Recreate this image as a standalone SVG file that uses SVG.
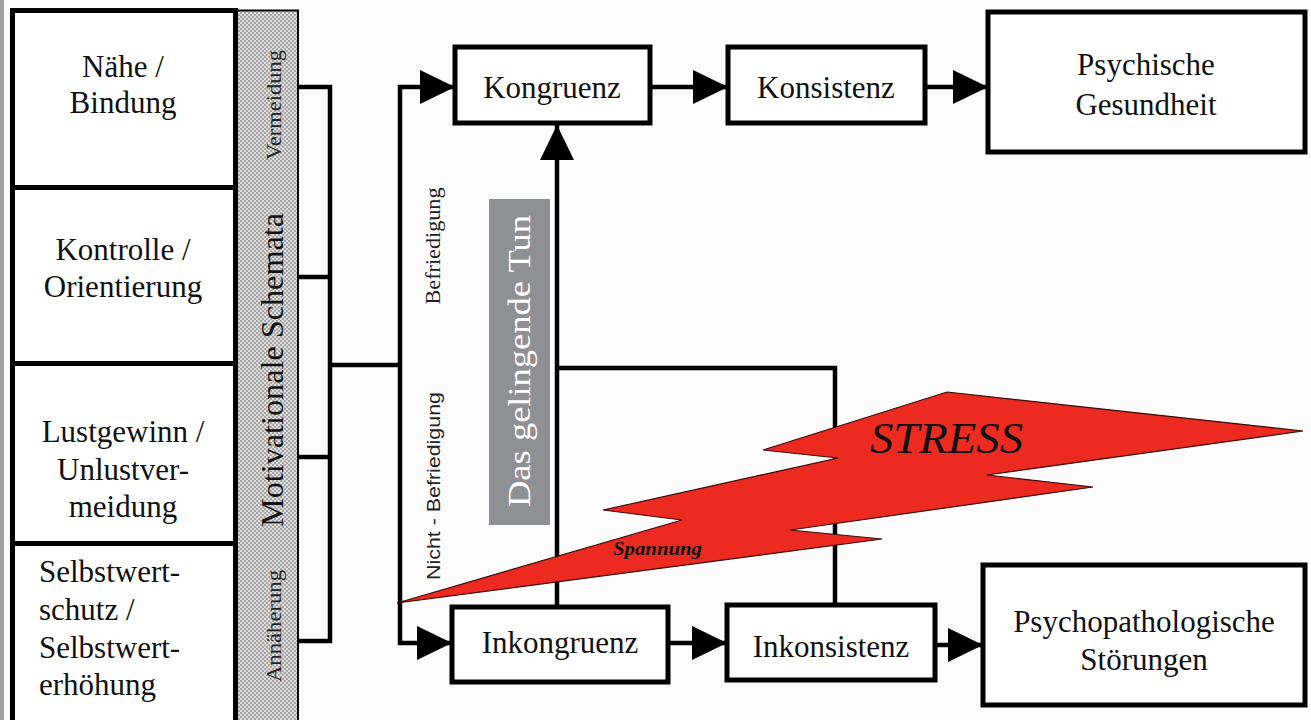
<svg xmlns="http://www.w3.org/2000/svg" width="1311" height="720" viewBox="0 0 1311 720">
<defs>
<style>
.box{fill:#fff;stroke:#000;stroke-width:5}
.t{font-family:"Liberation Serif","Times New Roman",serif;font-size:31px;fill:#111;text-anchor:middle}
.tl{font-family:"Liberation Serif","Times New Roman",serif;font-size:31px;fill:#111;text-anchor:start}
.ts{font-family:"Liberation Serif","Times New Roman",serif;font-size:20px;fill:#222;text-anchor:middle}
.ln{fill:none;stroke:#000;stroke-width:4.5;stroke-linejoin:miter}
.arr{marker-end:url(#ah)}
</style>
<marker id="ah" markerUnits="userSpaceOnUse" markerWidth="36" markerHeight="36" refX="35" refY="17" orient="auto"><path d="M0,0 L35,17 L0,34 Z" fill="#000"/></marker>
<pattern id="stip" width="4" height="4" patternUnits="userSpaceOnUse"><rect width="4" height="4" fill="#dcdcdc"/><rect width="2" height="2" fill="#a6a6a6"/><rect x="2" y="2" width="2" height="2" fill="#a6a6a6"/></pattern>
</defs>
<rect width="1311" height="720" fill="#fcfcfc"/>
<rect x="0" y="0" width="4" height="720" fill="#a0a0a0"/>

<g id="naehe"><rect class="box" x="12.5" y="10.5" width="223" height="177"/><text class="t" x="123" y="77">Nähe /</text><text class="t" x="123" y="113">Bindung</text></g>
<g id="kontrolle"><rect class="box" x="12.5" y="187.5" width="223" height="176"/><text class="t" x="123" y="260">Kontrolle /</text><text class="t" x="123" y="297">Orientierung</text></g>
<g id="lustgewinn"><rect class="box" x="12.5" y="363.5" width="223" height="180"/><text class="t" x="123" y="442">Lustgewinn /</text><text class="t" x="123" y="480">Unlustver-</text><text class="t" x="123" y="517">meidung</text></g>
<g id="selbstwert"><rect class="box" x="12.5" y="543.5" width="223" height="190"/><text class="tl" x="39" y="582">Selbstwert-</text><text class="tl" x="39" y="620">schutz /</text><text class="tl" x="39" y="658">Selbstwert-</text><text class="tl" x="39" y="695">erhöhung</text></g>

<g id="schemata"><rect x="237" y="10.5" width="61" height="720" fill="url(#stip)" stroke="#000" stroke-width="2"/>
<text class="t" transform="translate(283,370) rotate(-90)" font-size="32" textLength="314" lengthAdjust="spacingAndGlyphs">Motivationale Schemata</text>
<text class="ts" transform="translate(281,105) rotate(-90)" textLength="110" lengthAdjust="spacingAndGlyphs">Vermeidung</text>
<text class="ts" transform="translate(281,626) rotate(-90)" textLength="112" lengthAdjust="spacingAndGlyphs">Annäherung</text></g>

<g id="connectors">
<path class="ln" d="M298,87 H330 V641 H298"/>
<path class="ln" d="M298,277 H330 M298,457 H330"/>
<path class="ln" d="M330,365 H400"/>
<path class="ln arr" d="M400,365 V87 H455"/>
<path class="ln arr" d="M400,365 V643 H452"/>
<path class="ln arr" d="M650,87 H728"/>
<path class="ln arr" d="M925,87 H988"/>
<path class="ln arr" d="M668,643 H727"/>
<path class="ln arr" d="M935,645 H983"/>
<path class="ln arr" d="M557,607 V125"/>
<path class="ln" d="M557,368 H835 V605"/>
</g>

<g id="kongruenz"><rect class="box" x="455" y="47" width="195" height="76"/><text class="t" x="552" y="98">Kongruenz</text></g>
<g id="konsistenz"><rect class="box" x="728" y="47" width="197" height="76"/><text class="t" x="826" y="98">Konsistenz</text></g>
<g id="gesundheit"><rect class="box" x="988" y="12" width="317" height="140"/><text class="t" x="1146" y="75">Psychische</text><text class="t" x="1146" y="115">Gesundheit</text></g>
<g id="inkongruenz"><rect class="box" x="452" y="607" width="216" height="75"/><text class="t" x="560" y="653">Inkongruenz</text></g>
<g id="inkonsistenz"><rect class="box" x="727" y="605" width="208" height="75"/><text class="t" x="831" y="657">Inkonsistenz</text></g>
<g id="stoerungen"><rect class="box" x="983" y="565" width="322" height="140"/><text class="t" x="1144" y="632">Psychopathologische</text><text class="t" x="1144" y="670">Störungen</text></g>

<g id="befriedigung"><text class="ts" transform="translate(440,246) rotate(-90)" font-size="19" textLength="117" lengthAdjust="spacingAndGlyphs">Befriedigung</text></g>
<g id="nicht-befriedigung"><text transform="translate(440,486) rotate(-90)" font-family="'Liberation Sans',Arial,sans-serif" font-size="18" fill="#222" text-anchor="middle" textLength="188" lengthAdjust="spacingAndGlyphs">Nicht - Befriedigung</text></g>

<g id="tun"><rect x="489" y="199" width="61" height="326" fill="#8f9094"/><text class="t" transform="translate(530,361) rotate(-90)" font-size="37" style="fill:#fff" textLength="292" lengthAdjust="spacingAndGlyphs">Das gelingende Tun</text></g>

<g id="stress"><polygon points="397,603 682,520 603,510 838,458 763,450 947,392 1303,431 987,475 1093,487 790,530 882,539" fill="#ec2a20" stroke="#3a0a08" stroke-width="1.2" stroke-linejoin="miter"/>
<text x="870" y="453" font-family="'Liberation Serif','Times New Roman',serif" font-style="italic" font-size="45" fill="#111" textLength="153" lengthAdjust="spacingAndGlyphs">STRESS</text>
<text x="613" y="555" font-family="'Liberation Serif','Times New Roman',serif" font-style="italic" font-weight="bold" font-size="19" fill="#111" textLength="89" lengthAdjust="spacingAndGlyphs">Spannung</text></g>
</svg>
